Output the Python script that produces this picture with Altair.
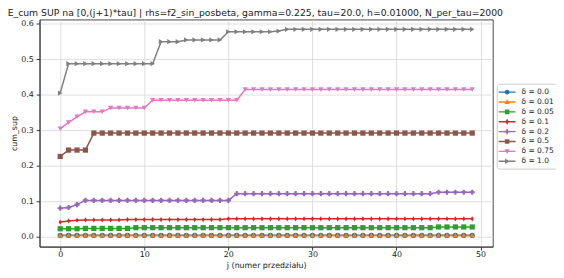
import altair as alt
import pandas as pd

# ---- data ----
j_values = list(range(50))
delta_names = ["0.0", "0.01", "0.05", "0.1", "0.2", "0.5", "0.75", "1.0"]

s_000 = [0.003, 0.003, 0.003, 0.003, 0.003, 0.003, 0.003, 0.003, 0.003, 0.003,
         0.003, 0.003, 0.003, 0.003, 0.003, 0.003, 0.003, 0.003, 0.003, 0.003,
         0.003, 0.003, 0.003, 0.003, 0.003, 0.003, 0.003, 0.003, 0.003, 0.003,
         0.003, 0.003, 0.003, 0.003, 0.003, 0.003, 0.003, 0.003, 0.003, 0.003,
         0.003, 0.003, 0.003, 0.003, 0.003, 0.003, 0.003, 0.003, 0.003, 0.003]
s_001 = [0.004, 0.004, 0.004, 0.004, 0.004, 0.004, 0.004, 0.004, 0.004, 0.004,
         0.004, 0.004, 0.004, 0.004, 0.004, 0.004, 0.004, 0.004, 0.004, 0.004,
         0.004, 0.004, 0.004, 0.004, 0.004, 0.004, 0.004, 0.004, 0.004, 0.004,
         0.004, 0.004, 0.004, 0.004, 0.004, 0.004, 0.004, 0.004, 0.004, 0.004,
         0.004, 0.004, 0.004, 0.004, 0.004, 0.004, 0.004, 0.004, 0.004, 0.004]
s_005 = [0.022, 0.022, 0.022, 0.023, 0.023, 0.023, 0.023, 0.023, 0.023, 0.025,
         0.025, 0.025, 0.025, 0.025, 0.025, 0.025, 0.025, 0.025, 0.025, 0.025,
         0.025, 0.025, 0.025, 0.025, 0.025, 0.025, 0.025, 0.025, 0.025, 0.025,
         0.025, 0.025, 0.025, 0.025, 0.025, 0.025, 0.025, 0.025, 0.025, 0.025,
         0.025, 0.025, 0.025, 0.025, 0.025, 0.027, 0.027, 0.027, 0.027, 0.027]
s_010 = [0.041, 0.044, 0.046, 0.047, 0.047, 0.047, 0.047, 0.047, 0.048, 0.048,
         0.048, 0.048, 0.048, 0.048, 0.048, 0.048, 0.048, 0.048, 0.048, 0.048,
         0.050, 0.050, 0.050, 0.050, 0.050, 0.050, 0.050, 0.050, 0.050, 0.050,
         0.050, 0.050, 0.050, 0.050, 0.050, 0.050, 0.050, 0.050, 0.050, 0.050,
         0.050, 0.050, 0.050, 0.050, 0.050, 0.050, 0.050, 0.050, 0.050, 0.050]
s_020 = [0.080, 0.082, 0.090, 0.102, 0.102, 0.102, 0.102, 0.102, 0.102, 0.102,
         0.102, 0.102, 0.102, 0.102, 0.102, 0.102, 0.102, 0.102, 0.102, 0.102,
         0.102, 0.121, 0.121, 0.121, 0.121, 0.121, 0.121, 0.121, 0.121, 0.121,
         0.121, 0.121, 0.121, 0.121, 0.121, 0.121, 0.121, 0.121, 0.121, 0.121,
         0.121, 0.121, 0.121, 0.121, 0.121, 0.125, 0.125, 0.125, 0.125, 0.125]
s_050 = [0.226, 0.244, 0.244, 0.244, 0.292, 0.292, 0.292, 0.292, 0.292, 0.292,
         0.292, 0.292, 0.292, 0.292, 0.292, 0.292, 0.292, 0.292, 0.292, 0.292,
         0.292, 0.292, 0.292, 0.292, 0.292, 0.292, 0.292, 0.292, 0.292, 0.292,
         0.292, 0.292, 0.292, 0.292, 0.292, 0.292, 0.292, 0.292, 0.292, 0.292,
         0.292, 0.292, 0.292, 0.292, 0.292, 0.292, 0.292, 0.292, 0.292, 0.292]
s_075 = [0.304, 0.322, 0.338, 0.352, 0.352, 0.352, 0.363, 0.363, 0.363, 0.363,
         0.363, 0.385, 0.385, 0.385, 0.385, 0.385, 0.385, 0.385, 0.385, 0.385,
         0.385, 0.385, 0.415, 0.415, 0.415, 0.415, 0.415, 0.415, 0.415, 0.415,
         0.415, 0.415, 0.415, 0.415, 0.415, 0.415, 0.415, 0.415, 0.415, 0.415,
         0.415, 0.415, 0.415, 0.415, 0.415, 0.415, 0.415, 0.415, 0.415, 0.415]
s_100 = [0.405, 0.488, 0.488, 0.488, 0.488, 0.488, 0.488, 0.488, 0.488, 0.488,
         0.488, 0.488, 0.550, 0.550, 0.550, 0.555, 0.555, 0.555, 0.555, 0.555,
         0.578, 0.578, 0.578, 0.578, 0.578, 0.578, 0.580, 0.585, 0.585, 0.585,
         0.585, 0.585, 0.585, 0.585, 0.585, 0.585, 0.585, 0.585, 0.585, 0.585,
         0.585, 0.585, 0.585, 0.585, 0.585, 0.585, 0.585, 0.585, 0.585, 0.585]

series = [s_000, s_001, s_005, s_010, s_020, s_050, s_075, s_100]

colors = ["#1f77b4", "#ff7f0e", "#2ca02c", "#d62728",
          "#9467bd", "#8c564b", "#e377c2", "#7f7f7f"]
shapes = ["circle", "triangle-up", "square", "M0,-1L0.6,0L0,1L-0.6,0Z",
          "cross", "square", "triangle-down", "triangle-right"]

# legend glyphs: short line segment with the marker on it (unit coords)
LINE = "M-1.55,-0.13H1.55V0.13H-1.55Z"
legend_markers = [
    "M0,-0.45A0.45,0.45 0 1,1 0,0.45A0.45,0.45 0 1,1 0,-0.45Z",
    "M0,-0.5L0.5,0.38L-0.5,0.38Z",
    "M-0.42,-0.42H0.42V0.42H-0.42Z",
    "M0,-0.55L0.33,0L0,0.55L-0.33,0Z",
    "M-0.15,-0.5H0.15V-0.15H0.5V0.15H0.15V0.5H-0.15V0.15H-0.5V-0.15H-0.15Z",
    "M-0.42,-0.42H0.42V0.42H-0.42Z",
    "M-0.5,-0.38L0.5,-0.38L0,0.5Z",
    "M-0.38,-0.5L0.5,0L-0.38,0.5Z",
]
legend_shapes = [LINE + m for m in legend_markers]

labels = ["δ = " + d for d in delta_names]

rows = []
for k, (lab, vals) in enumerate(zip(labels, series)):
    for jj, v in zip(j_values, vals):
        rows.append({"j": jj, "cum_sup": v, "delta": lab, "k": k})
df = pd.DataFrame(rows)

FONT = "DejaVu Sans"

x = alt.X("j:Q",
          scale=alt.Scale(domain=[-2.45, 51.45], nice=False, zero=False),
          axis=alt.Axis(values=[0, 10, 20, 30, 40, 50], format="d",
                        title="j  (numer przedziału)"))
y = alt.Y("cum_sup:Q",
          scale=alt.Scale(domain=[-0.0285, 0.6125], nice=False, zero=False),
          axis=alt.Axis(values=[0.0, 0.1, 0.2, 0.3, 0.4, 0.5, 0.6], format=".1f",
                        title="cum_sup"))

color_scale = alt.Scale(domain=labels, range=colors)

lines = alt.Chart(df).mark_line(strokeWidth=1.5).encode(
    x=x, y=y,
    color=alt.Color("delta:N", scale=color_scale, sort=labels, legend=None),
)

points = alt.Chart(df).mark_point(filled=True, size=28, opacity=1).encode(
    x=x, y=y,
    color=alt.Color("delta:N", scale=color_scale, sort=labels, legend=None),
    shape=alt.Shape("delta:N", scale=alt.Scale(domain=labels, range=shapes),
                    sort=labels, legend=None),
)

leg = alt.Legend(title=None, orient="none", legendX=463, legendY=65,
                 padding=3, strokeColor="#cccccc", fillColor="white",
                 cornerRadius=3, labelFont=FONT, labelFontSize=7.6,
                 labelColor="#222222", symbolSize=121, symbolOffset=2,
                 labelOffset=9, rowPadding=0, symbolStrokeWidth=0,
                 symbolOpacity=1)

legend_layer = alt.Chart(df).mark_point(filled=True, size=121, opacity=0).encode(
    x=x, y=y,
    color=alt.Color("delta:N", scale=color_scale, sort=labels, legend=leg),
    shape=alt.Shape("delta:N", scale=alt.Scale(domain=labels, range=legend_shapes),
                    sort=labels, legend=leg),
)

chart = alt.layer(lines, points, legend_layer).resolve_scale(
    color="independent", shape="independent"
).resolve_legend(
    color="independent", shape="independent"
).properties(
    width=459, height=230,
    autosize="none",
    padding={"left": 32, "top": 10, "right": 64, "bottom": 24},
    title=alt.TitleParams(
        "E_cum SUP na [0,(j+1)*tau] | rhs=f2_sin_posbeta, gamma=0.225, tau=20.0, h=0.01000, N_per_tau=2000",
        font=FONT, fontSize=9.4, fontWeight="normal", color="#222222",
        anchor="middle", baseline="alphabetic", offset=-5.5, dx=-11),
).configure_view(
    stroke="#333333", strokeWidth=0.9
).configure_axis(
    labelFont=FONT, labelFontSize=8, labelColor="#222222",
    titleFont=FONT, titleFontSize=8, titleFontWeight="normal", titleColor="#222222",
    tickColor="#333333", tickSize=3.5,
    domain=True, domainColor="#333333", domainWidth=0.9,
    grid=True, gridColor="#d6d6d6", gridWidth=0.8,
).configure_axisX(
    labelPadding=1, titlePadding=3
).configure_axisY(
    labelPadding=3, titlePadding=2.5
)

chart.save("out.html", embed_options={"renderer": "svg", "actions": False})
